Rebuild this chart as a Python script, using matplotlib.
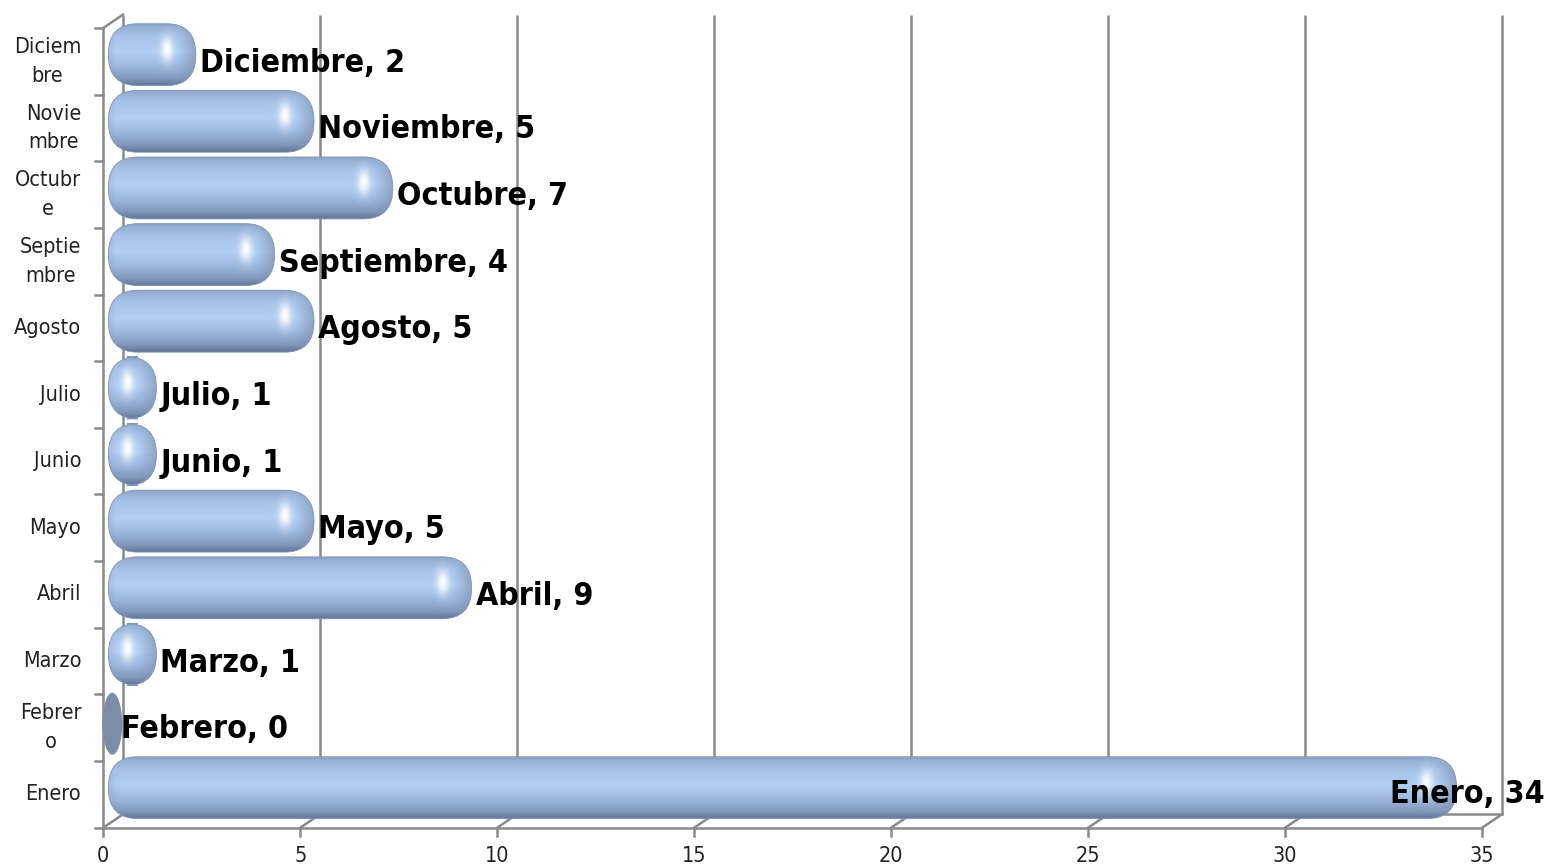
import numpy as np
import matplotlib.pyplot as plt
from matplotlib.patches import FancyBboxPatch, Ellipse
from matplotlib.colors import LinearSegmentedColormap, to_rgb

# data (bottom to top)
meses = ['Enero', 'Febrero', 'Marzo', 'Abril', 'Mayo', 'Junio', 'Julio',
         'Agosto', 'Septiembre', 'Octubre', 'Noviembre', 'Diciembre']
etiquetas = ['Enero', 'Febrer\no', 'Marzo', 'Abril', 'Mayo', 'Junio', 'Julio',
             'Agosto', 'Septie\nmbre', 'Octubr\ne', 'Novie\nmbre', 'Diciem\nbre']
valores = [34, 0, 1, 9, 5, 1, 1, 5, 4, 7, 5, 2]
xticks = [0, 5, 10, 15, 20, 25, 30, 35]

fig = plt.figure(figsize=(15.48, 8.67), dpi=100)
ax = fig.add_axes([0, 0, 1, 1])
ax.set_axis_off()

dx, dy = 0.5, 0.2   # depth of the pseudo 3d box
gris = '#8a8a8a'
lw = 1.8
n = len(meses)
xmax = xticks[-1]
fuente = dict(family='DejaVu Sans', fontstretch='condensed')

# back wall + gridlines
for t in xticks:
    ax.plot([t + dx, t + dx], [-0.5 + dy, n - 0.5 + dy], color=gris, lw=lw, zorder=1,
            solid_capstyle='butt')
    ax.plot([t, t + dx], [-0.5, -0.5 + dy], color=gris, lw=lw, zorder=1)
    ax.plot([t, t], [-0.5, -0.62], color=gris, lw=lw, zorder=1)
    ax.text(t, -0.93, str(t), ha='center', va='center', fontsize=15.5, color='#222222', **fuente)
ax.plot([dx, xmax + dx], [-0.5 + dy, -0.5 + dy], color=gris, lw=lw, zorder=1)
# front axes
ax.plot([0, 0], [-0.5, n - 0.5], color=gris, lw=lw, zorder=1)
ax.plot([0, xmax], [-0.5, -0.5], color=gris, lw=lw, zorder=1)
ax.plot([0, dx], [n - 0.5, n - 0.5 + dy], color=gris, lw=lw, zorder=1)
for k in range(n + 1):
    ax.plot([-0.2, 0], [k - 0.5, k - 0.5], color=gris, lw=lw, zorder=1)

# bar gradient
cmap = LinearSegmentedColormap.from_list('cil', [
    (0.0, '#62779a'), (0.12, '#8299bd'), (0.35, '#a0bbe1'),
    (0.55, '#b1cef4'), (0.8, '#a7c3e9'), (0.95, '#97b1d6'), (1.0, '#8aa3c7')])
cap = np.array(to_rgb('#7f90ab'))

h = 0.93
x0 = 0.13
for i, v in enumerate(valores):
    yc = i + dy / 2
    if v == 0:
        el = Ellipse((0.23, yc - 0.04), 0.5, h, facecolor='#7b8ca6', edgecolor='none', zorder=3)
        ax.add_patch(el)
    else:
        x1 = v + 0.35
        yb, yt = yc - h / 2, yc + h / 2
        patch = FancyBboxPatch((x0, yb), x1 - x0, h,
                               boxstyle='round,pad=0,rounding_size=0.75',
                               mutation_aspect=0.61, facecolor='none',
                               edgecolor='#8095b3', lw=0.6, zorder=4)
        ax.add_patch(patch)
        X, Y = np.meshgrid(np.linspace(x0, x1, 400), np.linspace(yb, yt, 80))
        s = (Y - yb) / h
        img = cmap(s)[..., :3]
        d = x1 - X
        w = np.clip((0.45 - d) / 0.45, 0, 1)[..., None] * 0.65
        img = img * (1 - w) + cap * w
        dl = X - x0
        wl = np.clip((0.2 - dl) / 0.2, 0, 1)[..., None] * 0.25
        img = img * (1 - wl) + cap * wl
        g = np.exp(-0.5 * (((X - (x1 - 0.73)) / 0.11) ** 2 + ((Y - (yc + 0.09)) / 0.13) ** 2))
        img = img * (1 - g[..., None]) + g[..., None]
        im = ax.imshow(img, extent=[x0, x1, yb, yt], origin='lower',
                       interpolation='bilinear', aspect='auto', zorder=3)
        im.set_clip_path(patch)

    txt = f'{meses[i]}, {v}'
    if v == max(valores):
        ax.text(36.6, i, txt, ha='right', va='center', fontsize=23,
                fontweight='bold', color='black', zorder=5, **fuente)
    else:
        ax.text(v + 0.45, i - 0.03, txt, ha='left', va='center', fontsize=23,
                fontweight='bold', color='black', zorder=5, **fuente)

    ax.text(-0.56, i, etiquetas[i], ha='right', va='center', fontsize=15.5,
            multialignment='center', linespacing=1.55, color='#222222', **fuente)

ax.set_xlim(-2.62, 36.67)
ax.set_ylim(-1.09, 11.92)

fig.savefig('out.png', dpi=100)
